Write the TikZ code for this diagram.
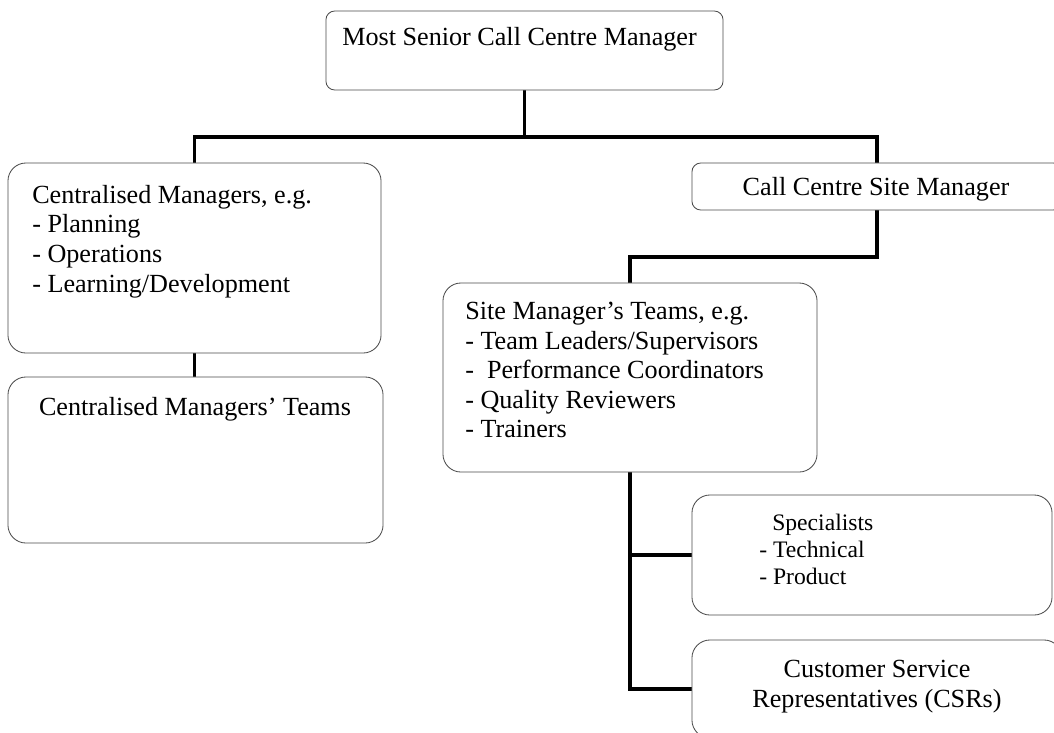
\documentclass[tikz,border=0pt]{standalone}
\usepackage{fontspec}
\setmainfont{Liberation Serif}
\usetikzlibrary{backgrounds}

\begin{document}
\begin{tikzpicture}
		[x=0.025cm,y=-0.025cm,
		box/.style={draw=black!70,line width=0.6pt,fill=white,inner sep=0,rounded corners=0.45cm},
		sbox/.style={box,rounded corners=0.22cm},
		txt/.style={inner sep=0,font=\fontsize{18.6}{21}\selectfont,align=left},
		conn/.style={line width=2.8pt,line cap=rect}]

		\useasboundingbox (0,0) rectangle (1054,732);

		\node[sbox,minimum width=9.925cm,minimum height=1.975cm] (n0) at (524.5,50.5) {};
		\node[txt,anchor=base west] (t0) at (342,45) {Most Senior Call Centre Manager};

		\node[box,minimum width=9.325cm,minimum height=4.75cm] (n1) at (194.5,258) {};
		\node[txt,anchor=north west] (t1) at (32,185) {Centralised Managers, e.g.\\- Planning\\- Operations\\- Learning/Development};

		\node[box,minimum width=9.375cm,minimum height=4.15cm] (n2) at (195.5,460) {};
		\node[txt,anchor=base] (t2) at (195,415) {Centralised Managers' Teams};

		\node[sbox,minimum width=9.25cm,minimum height=1.175cm] (n3) at (877,186.5) {};
		\node[txt,anchor=base] (t3) at (876,195) {Call Centre Site Manager};

		\node[box,minimum width=9.35cm,minimum height=4.725cm] (n4) at (630,377.5) {};
		\node[txt,anchor=north west] (t4) at (465,302) {Site Manager's Teams, e.g.\\- Team Leaders/Supervisors\\-\ \ Performance Coordinators\\- Quality Reviewers\\- Trainers};

		\node[box,minimum width=9cm,minimum height=3cm] (n5) at (872,555) {};
		\node[txt,anchor=north west,font=\fontsize{16.8}{19}\selectfont] (t5) at (759,514) {\hspace{0.325cm}Specialists\\- Technical\\- Product};

		\node[box,minimum width=9.25cm,minimum height=2.45cm] (n6) at (877,689) {};
		\node[txt,anchor=north,align=center] (t6) at (877,660) {Customer Service\\Representatives (CSRs)};

		\coordinate (bus) at (0,137);
		\coordinate (elb) at (0,257);

		\begin{scope}[on background layer]
		\draw[conn] (n0.south) -- (n0.south |- bus);
		\draw[conn] (n1.north) -- (n1.north |- bus) -- (n3.center |- bus) -- (n3.center |- elb) -- (n4.north |- elb) -- (n4.north);
		\draw[conn] (n1.south) -- (n1.south |- n2.north);
		\draw[conn] (n4.south) |- (n6.west);
		\draw[conn] (n4.south |- n5.west) -- (n5.west);
		\end{scope}

	\end{tikzpicture}
\end{document}
